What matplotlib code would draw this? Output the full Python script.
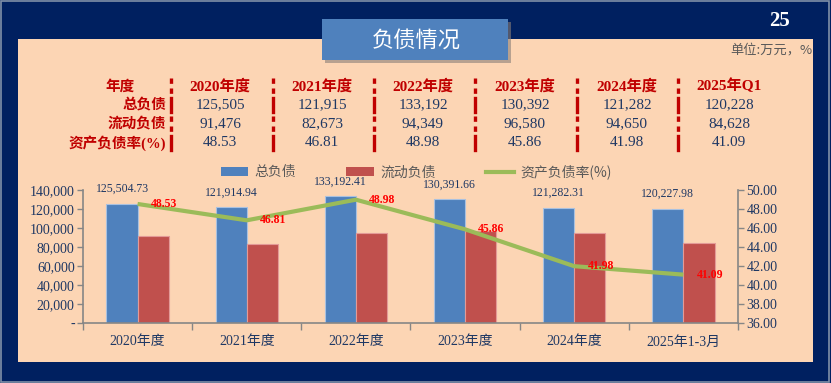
import matplotlib
matplotlib.use("Agg")
import matplotlib.pyplot as plt
from matplotlib.patches import Rectangle, Patch
from matplotlib.lines import Line2D
from matplotlib.ticker import FuncFormatter, MultipleLocator

# ---------------- data ----------------
categories = ["2020年度", "2021年度", "2022年度", "2023年度", "2024年度", "2025年1-3月"]
total_liab = [125504.73, 121914.94, 133192.41, 130391.66, 121282.31, 120227.98]
current_liab = [91476, 82673, 94349, 96580, 94650, 84628]
debt_ratio = [48.53, 46.81, 48.98, 45.86, 41.98, 41.09]

table_headers = ["2020年度", "2021年度", "2022年度", "2023年度", "2024年度", "2025年Q1"]
table_row_labels = ["总负债", "流动负债", "资产负债率(%)"]
table_total = ["125,505", "121,915", "133,192", "130,392", "121,282", "120,228"]
table_current = ["91,476", "82,673", "94,349", "96,580", "94,650", "84,628"]
table_ratio = ["48.53", "46.81", "48.98", "45.86", "41.98", "41.09"]

legend_labels = ["总负债", "流动负债", "资产负债率(%)"]
title_text = "负债情况"
page_no = "25"
unit_text = "单位:万元，%"

# ---------------- style ----------------
W, H = 831, 383
NAVY = "#002060"
PEACH = "#FCD5B4"
BLUE = "#4F81BD"
RED = "#C0504D"
GREEN = "#9BBB59"
DARKRED = "#C00000"
TXT = "#1F3864"
SERIF = ["Liberation Serif", "Noto Sans CJK SC", "DejaVu Sans"]
CJK = ["Noto Sans CJK SC", "DejaVu Sans"]

plt.rcParams["font.family"] = SERIF

fig = plt.figure(figsize=(W / 100, H / 100), dpi=100, facecolor=NAVY)

def fx(px):
    return px / W

def fy(py):
    return 1 - py / H

# outer border
fig.patches.append(Rectangle((0.001, 0.002), 0.997, 0.995, transform=fig.transFigure,
                             fill=False, edgecolor="#8090A8", lw=1.2, zorder=-5))
# peach panel
fig.patches.append(Rectangle((fx(18), fy(362)), fx(813) - fx(18), fy(39) - fy(362),
                             transform=fig.transFigure, facecolor=PEACH, edgecolor="none", zorder=-5))
# title box with shadow
fig.patches.append(Rectangle((fx(325), fy(63)), fx(508) - fx(322), fy(19) - fy(60),
                             transform=fig.transFigure, facecolor="#8A7F78", edgecolor="none",
                             alpha=0.6, zorder=-4))
fig.patches.append(Rectangle((fx(322), fy(60)), fx(508) - fx(322), fy(19) - fy(60),
                             transform=fig.transFigure, facecolor=BLUE, edgecolor="none", zorder=-3))
fig.text(fx(416), fy(40), title_text, color="white", fontsize=16, family=CJK,
         ha="center", va="center", zorder=3)
fig.text(fx(780), fy(21), page_no, color="white", fontsize=15, fontweight="bold",
         family=SERIF, ha="center", va="center")
fig.text(fx(812), fy(50), unit_text, color="#595959", fontsize=9.5, family=CJK,
         ha="right", va="center")

# ---------------- table ----------------
row_y = [86, 105, 124, 143]
col_x = [220, 322, 423, 525, 627, 729]
sep_x = [171, 273, 374, 475, 577, 678]

fig.text(fx(120), fy(row_y[0]), "年度", color=DARKRED, fontsize=10.5, fontweight="bold",
         family=CJK, ha="center", va="center")
for lbl, y in zip(table_row_labels, row_y[1:]):
    fig.text(fx(166), fy(y), lbl, color=DARKRED, fontsize=10.5, fontweight="bold",
             family=SERIF, ha="right", va="center")
for x, hdr in zip(col_x, table_headers):
    fig.text(fx(x), fy(row_y[0]), hdr, color=DARKRED, fontsize=11, fontweight="bold",
             family=SERIF, ha="center", va="center")
for vals, y in zip([table_total, table_current, table_ratio], row_y[1:]):
    for x, v in zip(col_x, vals):
        fig.text(fx(x), fy(y), v, color=TXT, fontsize=11, family=SERIF,
                 ha="center", va="center")
for x in sep_x:
    for i, y in enumerate(row_y):
        if i % 2 == 0:
            ln = Line2D([fx(x), fx(x)], [fy(y - 8), fy(y + 8)], transform=fig.transFigure,
                        color=DARKRED, lw=2.4, linestyle=(0, (1.6, 1.4)))
        else:
            ln = Line2D([fx(x), fx(x)], [fy(y - 7), fy(y + 7)], transform=fig.transFigure,
                        color=DARKRED, lw=2.4)
        fig.lines.append(ln)

# ---------------- chart ----------------
ax = fig.add_axes([fx(83), fy(323), fx(738) - fx(83), fy(190) - fy(323)])
ax.set_zorder(5)
ax.set_facecolor("none")
n = len(categories)
xs = list(range(n))
bw = 0.285
ax.bar([x - bw / 2 for x in xs], total_liab, width=bw, color=BLUE, edgecolor="#A9C1E0",
       linewidth=0.8, label=legend_labels[0], zorder=2)
ax.bar([x + bw / 2 for x in xs], current_liab, width=bw, color=RED, edgecolor="#E39A97",
       linewidth=0.8, label=legend_labels[1], zorder=2)
for x, v in zip(xs, total_liab):
    ax.annotate(f"{v:,.2f}", (x - bw / 2, v), xytext=(0, 10.5), textcoords="offset points",
                ha="center", va="center", fontsize=8.5, color=TXT, family=SERIF,
                annotation_clip=False)

ax.set_xlim(-0.5, n - 0.5)
ax.set_ylim(0, 140000)
ax.yaxis.set_major_locator(MultipleLocator(20000))
ax.yaxis.set_major_formatter(FuncFormatter(lambda v, p: "-" if v == 0 else f"{v:,.0f}"))
ax.set_xticks([i - 0.5 for i in range(n + 1)])
ax.set_xticklabels([])
ax.set_xticks(xs, minor=True)
ax.set_xticklabels(categories, minor=True)
ax.tick_params(axis="x", which="major", direction="out", length=5, color="#868686", width=1)
ax.tick_params(axis="x", which="minor", length=0, pad=9, labelsize=10, labelcolor=TXT)
ax.tick_params(axis="y", direction="out", length=4, color="#868686", width=1,
               labelsize=10, labelcolor=TXT, pad=2)
for s in ["top", "right"]:
    ax.spines[s].set_visible(False)
for s in ["left", "bottom"]:
    ax.spines[s].set_color("#868686")
    ax.spines[s].set_linewidth(1.2)

ax2 = ax.twinx()
ax2.set_zorder(6)
ax2.set_facecolor("none")
ax2.plot(xs, debt_ratio, color=GREEN, lw=3, label=legend_labels[2], zorder=3,
         solid_capstyle="butt")
for x, v in zip(xs, debt_ratio):
    ax2.annotate(f"{v:.2f}", (x, v), xytext=(19, 0), textcoords="offset points",
                 ha="center", va="center", fontsize=8.5, color="#FF0000",
                 fontweight="bold", family=SERIF, annotation_clip=False)
ax2.set_ylim(36, 50)
ax2.yaxis.set_major_locator(MultipleLocator(2))
ax2.yaxis.set_major_formatter(FuncFormatter(lambda v, p: f"{v:.2f}"))
ax2.tick_params(axis="y", direction="out", length=4, color="#868686", width=1,
                labelsize=10, labelcolor=TXT, pad=2)
for s in ["top", "left", "bottom"]:
    ax2.spines[s].set_visible(False)
ax2.spines["right"].set_color("#868686")
ax2.spines["right"].set_linewidth(1.2)

handles = [Patch(facecolor=BLUE, edgecolor="none"),
           Patch(facecolor=RED, edgecolor="none"),
           Line2D([0], [0], color=GREEN, lw=3)]
leg = fig.legend(handles, legend_labels, loc="center", bbox_to_anchor=(fx(416), fy(172)),
                 ncol=3, frameon=False, fontsize=10, handlelength=2.0, handleheight=0.65,
                 handletextpad=0.45, columnspacing=3.6, prop={"family": CJK, "size": 10})
for t in leg.get_texts():
    t.set_color("#595959")

fig.savefig("out.png", dpi=100, facecolor=NAVY)
